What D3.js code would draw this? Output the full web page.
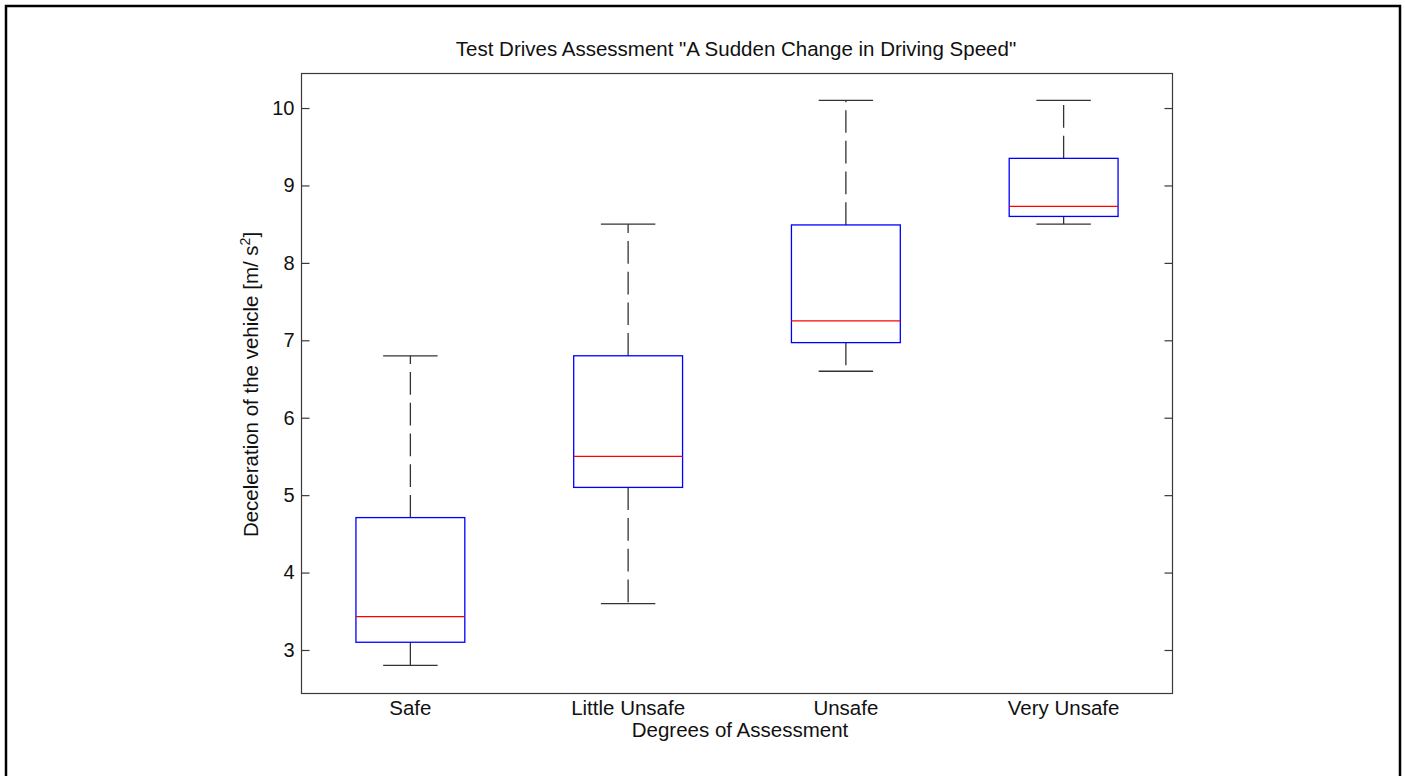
<!DOCTYPE html>
<html>
<head>
<meta charset="utf-8">
<script src="https://cdn.jsdelivr.net/npm/d3@7"></script>
<style>
  html, body { margin: 0; padding: 0; background: #fff; }
  svg { display: block; }
  text { font-family: "Liberation Sans", Arial, sans-serif; fill: #111; }
</style>
</head>
<body>
<svg id="chart" width="1405" height="776"></svg>
<script>
// ---- data ----
const categories = ["Safe", "Little Unsafe", "Unsafe", "Very Unsafe"];
const lowerWhisker = [2.8, 3.6, 6.6, 8.5];
const q1 = [3.1, 5.1, 6.97, 8.6];
const median = [3.43, 5.5, 7.25, 8.73];
const q3 = [4.71, 6.8, 8.49, 9.35];
const upperWhisker = [6.8, 8.5, 10.1, 10.1];
const yTicks = [3, 4, 5, 6, 7, 8, 9, 10];
const titleText = 'Test Drives Assessment "A Sudden Change in Driving Speed"';
const xLabel = "Degrees of Assessment";

(function () {
const svg = d3.select("#chart");
const pL = 301.5, pR = 1172.5, pT = 73.5, pB = 693.5;
const axisColor = "#3a3a3a";
const fontSize = 20.5;
const tickFont = 20;

const x = d3.scaleLinear().domain([0.5, categories.length + 0.5]).range([pL, pR]);
const y = d3.scaleLinear().domain([2.438, 10.446]).range([pB, pT]);

// outer figure frame
svg.append("rect")
  .attr("x", 6).attr("y", 6).attr("width", 1394).attr("height", 800)
  .attr("fill", "none").attr("stroke", "#000").attr("stroke-width", 2.5);

// axes box
svg.append("rect")
  .attr("x", pL).attr("y", pT).attr("width", pR - pL).attr("height", pB - pT)
  .attr("fill", "none").attr("stroke", axisColor).attr("stroke-width", 1.2);

// left axis
const yAxisL = d3.axisLeft(y).tickValues(yTicks).tickSizeInner(-8).tickSizeOuter(0).tickPadding(7).tickFormat(d3.format("d"));
const gL = svg.append("g").attr("transform", `translate(${pL},0)`).call(yAxisL);
gL.select(".domain").remove();
gL.selectAll(".tick line").attr("stroke", axisColor).attr("stroke-width", 1.2);
gL.selectAll(".tick text").attr("font-size", tickFont).attr("fill", "#111")
  .attr("font-family", '"Liberation Sans", Arial, sans-serif');

// right axis ticks
const yAxisR = d3.axisRight(y).tickValues(yTicks).tickSizeInner(-8).tickSizeOuter(0).tickFormat("");
const gR = svg.append("g").attr("transform", `translate(${pR},0)`).call(yAxisR);
gR.select(".domain").remove();
gR.selectAll(".tick line").attr("stroke", axisColor).attr("stroke-width", 1.2);

// x tick labels
const gX = svg.append("g");
categories.forEach((c, i) => {
  gX.append("text")
    .attr("x", x(i + 1)).attr("y", 715)
    .attr("text-anchor", "middle").attr("font-size", fontSize)
    .text(c);
});

// boxes
const boxHalf = 0.25, capHalf = 0.125;
const g = svg.append("g");
categories.forEach((c, i) => {
  const cx = x(i + 1);
  g.append("line")
    .attr("x1", cx).attr("x2", cx)
    .attr("y1", y(q3[i])).attr("y2", y(upperWhisker[i]))
    .attr("stroke", "#333").attr("stroke-width", 1.3)
    .attr("stroke-dasharray", "22.7,8");
  g.append("line")
    .attr("x1", cx).attr("x2", cx)
    .attr("y1", y(q1[i])).attr("y2", y(lowerWhisker[i]))
    .attr("stroke", "#333").attr("stroke-width", 1.3)
    .attr("stroke-dasharray", "22.7,8");
  [upperWhisker[i], lowerWhisker[i]].forEach(v => {
    g.append("line")
      .attr("x1", x(i + 1 - capHalf)).attr("x2", x(i + 1 + capHalf))
      .attr("y1", y(v)).attr("y2", y(v))
      .attr("stroke", "#333").attr("stroke-width", 1.3);
  });
  g.append("rect")
    .attr("x", x(i + 1 - boxHalf)).attr("width", x(i + 1 + boxHalf) - x(i + 1 - boxHalf))
    .attr("y", y(q3[i])).attr("height", y(q1[i]) - y(q3[i]))
    .attr("fill", "none").attr("stroke", "#0000ff").attr("stroke-width", 1.3);
  g.append("line")
    .attr("x1", x(i + 1 - boxHalf)).attr("x2", x(i + 1 + boxHalf))
    .attr("y1", y(median[i])).attr("y2", y(median[i]))
    .attr("stroke", "#ff0000").attr("stroke-width", 1.3);
});

// title
svg.append("text")
  .attr("x", 736).attr("y", 56)
  .attr("text-anchor", "middle").attr("font-size", fontSize)
  .text(titleText);

// x label
svg.append("text")
  .attr("x", 740).attr("y", 737)
  .attr("text-anchor", "middle").attr("font-size", fontSize)
  .text(xLabel);

// y label
const yl = svg.append("text")
  .attr("transform", `translate(258,${(pT + pB) / 2 + 1}) rotate(-90)`)
  .attr("text-anchor", "middle").attr("font-size", fontSize);
yl.append("tspan").text("Deceleration of the vehicle [m/ s");
yl.append("tspan").attr("font-size", 14).attr("dy", -8).text("2");
yl.append("tspan").attr("dy", 8).text("]");
})();
</script>
</body>
</html>
